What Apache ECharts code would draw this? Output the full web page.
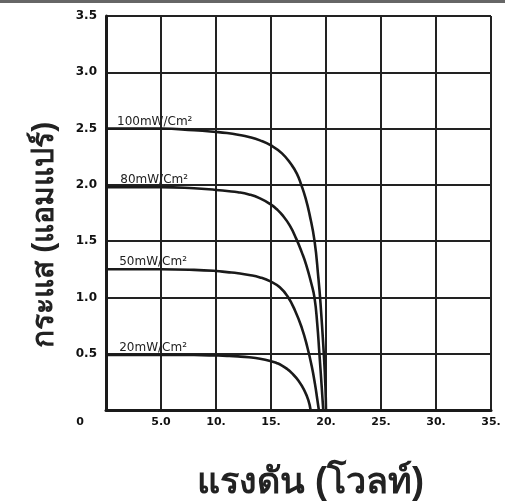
<!DOCTYPE html>
<html>
<head>
<meta charset="utf-8">
<script src="https://cdn.jsdelivr.net/npm/echarts@6/dist/echarts.min.js"></script>
<style>
html,body{margin:0;padding:0;background:#fff;}
#chart{width:505px;height:502px;}
</style>
</head>
<body>
<div id="chart"></div>
<script>
// ---- data ----
const seriesNames = ['100mW/Cm²', '80mW/Cm²', '50mW/Cm²', '20mW/Cm²'];
const curve100 = [[0,2.5],[5,2.5],[8,2.485],[10,2.47],[11,2.46],[12,2.445],[13,2.425],[14,2.395],[15,2.35],[16,2.28],[16.85,2.18],[17.35,2.1],[17.75,2.0],[18.15,1.88],[18.5,1.74],[18.96,1.5],[19.3,1.18],[19.5,0.95],[19.8,0.5],[19.95,0.2],[20.0,0]];
const curve80 = [[0,1.98],[5,1.98],[8,1.97],[10,1.955],[11,1.945],[12,1.935],[13,1.915],[14,1.88],[15,1.825],[15.5,1.785],[16,1.735],[16.7,1.64],[17.3,1.52],[17.8,1.4],[18.2,1.29],[18.65,1.13],[18.95,1.0],[19.2,0.77],[19.4,0.5],[19.6,0.22],[19.75,0]];
const curve50 = [[0,1.25],[5,1.25],[8,1.245],[10,1.235],[11,1.225],[12,1.215],[13,1.2],[14,1.178],[15,1.14],[15.8,1.09],[16.5,1.01],[17.2,0.88],[17.8,0.73],[18.3,0.56],[18.7,0.39],[19.0,0.23],[19.2,0.1],[19.35,0]];
const curve20 = [[0,0.49],[5,0.49],[8,0.488],[10,0.484],[11,0.481],[12,0.476],[13,0.468],[14,0.455],[15,0.434],[15.5,0.418],[16,0.395],[16.5,0.362],[16.85,0.332],[17.5,0.26],[18.05,0.17],[18.4,0.085],[18.6,0]];
const labelAnchors = [[1.0,2.5],[1.3,1.98],[1.2,1.25],[1.2,0.49]];
const xTickLabels = ['0','5.0','10.','15.','20.','25.','30.','35.'];
const yTickLabels = ['','0.5','1.0','1.5','2.0','2.5','3.0','3.5'];
const xName = 'แรงดัน (โวลท์)';
const yName = 'กระแส (แอมแปร์)';

const curves = [curve100, curve80, curve50, curve20];
const ink = '#1a1a1a';

const chart = echarts.init(document.getElementById('chart'), null, {renderer:'canvas'});
const option = {
  backgroundColor: '#fff',
  animation: false,
  graphic: [{type:'rect', left:0, top:0, shape:{width:505, height:3}, style:{fill:'#666'}}],
  grid: {left:106, right:14, top:16, bottom:92, outerBoundsMode:'none', containLabel:false},
  xAxis: {
    type:'value', min:0, max:35, interval:5,
    name: xName, nameLocation:'middle', nameGap:55,
    nameTextStyle:{fontSize:36, fontWeight:'bold', color:'#222', padding:[0,0,0,24]},
    axisLine:{show:true, lineStyle:{color:ink, width:3}},
    axisTick:{show:false},
    axisLabel:{
      margin:7, fontSize:11, fontWeight:'bold', color:'#111', fontFamily:'DejaVu Sans',
      formatter:(v)=>{ const s = xTickLabels[Math.round(v/5)]; return v===0 ? '{z|'+s+'}' : s; },
      rich:{z:{fontSize:11, fontWeight:'bold', color:'#111', fontFamily:'DejaVu Sans', padding:[0,52,0,0]}}
    },
    splitLine:{show:true, lineStyle:{color:'#222', width:2}}
  },
  yAxis: {
    type:'value', min:0, max:3.5, interval:0.5,
    name: yName, nameLocation:'middle', nameGap:46, nameRotate:90,
    nameTextStyle:{fontSize:30, fontWeight:'bold', color:'#222', padding:[0,44,0,0]},
    axisLine:{show:true, lineStyle:{color:ink, width:3}},
    axisTick:{show:false},
    axisLabel:{
      margin:9, fontSize:12, fontWeight:'bold', color:'#111', fontFamily:'DejaVu Sans',
      formatter:(v)=> yTickLabels[Math.round(v/0.5)]
    },
    splitLine:{show:true, lineStyle:{color:'#222', width:2}}
  },
  series: curves.map((c,i)=>({
    type:'line', name: seriesNames[i], data:c, showSymbol:false, symbol:'none',
    smooth:0.5,
    lineStyle:{color:ink, width:2.6},
    z:3,
    markPoint:{
      symbol:'rect', symbolSize:0, silent:true,
      data:[{coord: labelAnchors[i], value: seriesNames[i]}],
      label:{show:true, position:[0,0], align:'left', verticalAlign:'bottom', offset:[0,-1],
        formatter: seriesNames[i], fontSize:12, fontFamily:'DejaVu Sans', color:'#222'}
    }
  }))
};
chart.setOption(option);
</script>
</body>
</html>
